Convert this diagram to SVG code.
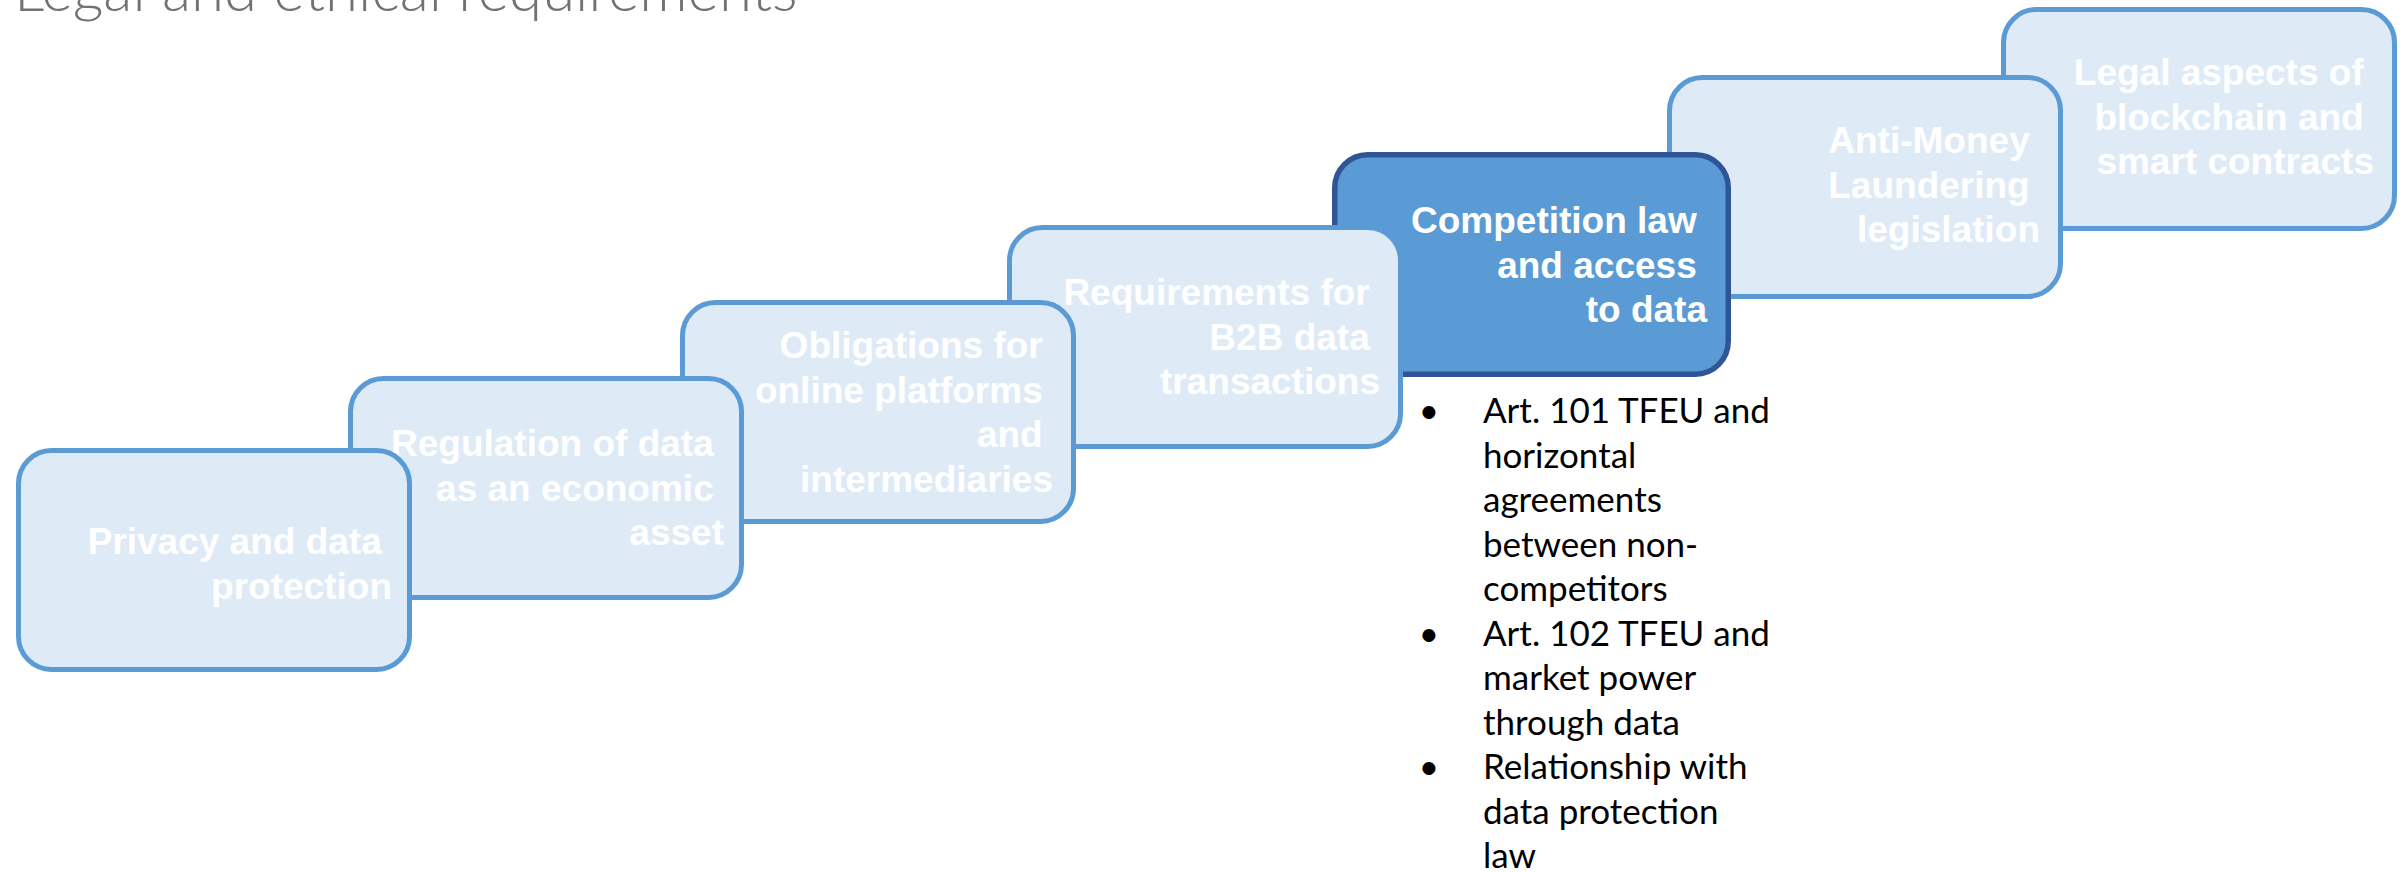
<svg xmlns="http://www.w3.org/2000/svg" width="2404" height="872" viewBox="0 0 2404 872">
  <style>
    .box { fill: #DEEBF7; stroke: #5B9BD5; stroke-width: 5; }
    .box-active { fill: #5B9BD5; stroke: #2F5597; stroke-width: 5.5; }
    .label { font-family: "Liberation Sans", Arial, sans-serif; font-weight: bold; font-size: 37px; fill: #FFFFFF; text-anchor: end; }
    .title { font-family: Lato, "Open Sans", sans-serif; font-weight: 300; font-size: 60px; fill: #767171; }
    .bullet { font-family: Lato, "Open Sans", sans-serif; font-size: 35px; fill: #000000; }
  </style>

  <!-- page heading, partly above the top edge -->
  <text class="title" x="14" y="11">Legal and ethical requirements</text>

  <!-- steps drawn back to front: the lower-left step overlaps the next one -->
  <g id="step-7">
    <rect class="box" x="2003.5" y="9.5" width="391" height="219" rx="33" ry="33"/>
    <text class="label" x="2374">
      <tspan x="2374" y="85">Legal aspects of</tspan>
      <tspan x="2374" y="129.5">blockchain and</tspan>
      <tspan x="2374" y="174">smart contracts</tspan>
    </text>
  </g>

  <g id="step-6">
    <rect class="box" x="1669.5" y="77.5" width="391" height="219" rx="33" ry="33"/>
    <text class="label" x="2040">
      <tspan x="2040" y="153">Anti-Money</tspan>
      <tspan x="2040" y="197.5">Laundering</tspan>
      <tspan x="2040" y="242">legislation</tspan>
    </text>
  </g>

  <g id="step-5">
    <rect class="box-active" x="1334.75" y="154.75" width="393.5" height="219.5" rx="33" ry="33"/>
    <text class="label" x="1707">
      <tspan x="1707" y="233">Competition law</tspan>
      <tspan x="1707" y="277.5">and access</tspan>
      <tspan x="1707" y="322">to data</tspan>
    </text>
  </g>

  <g id="step-4">
    <rect class="box" x="1009.5" y="227.5" width="391" height="219" rx="33" ry="33"/>
    <text class="label" x="1380">
      <tspan x="1380" y="305">Requirements for</tspan>
      <tspan x="1380" y="349.5">B2B data</tspan>
      <tspan x="1380" y="394">transactions</tspan>
    </text>
  </g>

  <g id="step-3">
    <rect class="box" x="682.5" y="302.5" width="391" height="219" rx="33" ry="33"/>
    <text class="label" x="1053">
      <tspan x="1053" y="358">Obligations for</tspan>
      <tspan x="1053" y="402.5">online platforms</tspan>
      <tspan x="1053" y="447">and</tspan>
      <tspan x="1053" y="491.5">intermediaries</tspan>
    </text>
  </g>

  <g id="step-2">
    <rect class="box" x="350.5" y="378.5" width="391" height="219" rx="33" ry="33"/>
    <text class="label" x="724">
      <tspan x="724" y="456">Regulation of data</tspan>
      <tspan x="724" y="500.5">as an economic</tspan>
      <tspan x="724" y="545">asset</tspan>
    </text>
  </g>

  <g id="step-1">
    <rect class="box" x="18.5" y="450.5" width="391" height="219" rx="33" ry="33"/>
    <text class="label" x="392">
      <tspan x="392" y="554">Privacy and data</tspan>
      <tspan x="392" y="598.5">protection</tspan>
    </text>
  </g>

  <!-- detail list under the highlighted step -->
  <g id="details">
    <text class="bullet" x="1429" y="423" text-anchor="middle">•</text>
    <text class="bullet" x="1429" y="646" text-anchor="middle">•</text>
    <text class="bullet" x="1429" y="779" text-anchor="middle">•</text>
    <text class="bullet" x="1483">
      <tspan x="1483" y="423">Art. 101 TFEU and</tspan>
      <tspan x="1483" y="467.5">horizontal</tspan>
      <tspan x="1483" y="512">agreements</tspan>
      <tspan x="1483" y="556.5">between non-</tspan>
      <tspan x="1483" y="601">competitors</tspan>
      <tspan x="1483" y="645.5">Art. 102 TFEU and</tspan>
      <tspan x="1483" y="690">market power</tspan>
      <tspan x="1483" y="734.5">through data</tspan>
      <tspan x="1483" y="779">Relationship with</tspan>
      <tspan x="1483" y="823.5">data protection</tspan>
      <tspan x="1483" y="868">law</tspan>
    </text>
  </g>

  <g id="connectors"/>
</svg>
